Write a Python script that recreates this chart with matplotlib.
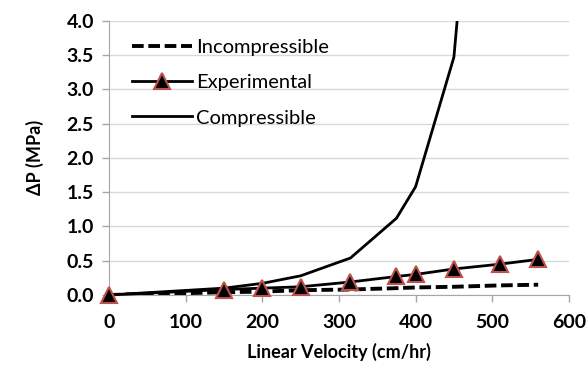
import matplotlib.pyplot as plt

# data
vel_exp = [0, 150, 200, 250, 315, 375, 400, 450, 510, 560]
dp_exp = [0.0, 0.08, 0.10, 0.12, 0.19, 0.27, 0.30, 0.38, 0.45, 0.52]

vel_inc = [0, 150, 200, 250, 315, 375, 400, 450, 510, 560]
dp_inc = [0.0, 0.04, 0.05, 0.07, 0.08, 0.10, 0.11, 0.12, 0.14, 0.15]

vel_comp = [0, 150, 200, 250, 315, 375, 400, 450, 510]
dp_comp = [0.0, 0.10, 0.17, 0.28, 0.54, 1.12, 1.58, 3.47, 11.0]

x_ticks = [0, 100, 200, 300, 400, 500, 600]
y_ticks = [0.0, 0.5, 1.0, 1.5, 2.0, 2.5, 3.0, 3.5, 4.0]

plt.rcParams['font.family'] = ['Lato', 'DejaVu Sans']

fig = plt.figure(figsize=(5.87, 3.66), dpi=100)
ax = fig.add_axes([0.186, 0.194, 0.783, 0.749])

ax.plot(vel_inc, dp_inc, color='black', lw=2.8, ls=(0, (3, 1.2)), label='Incompressible')
ax.plot(vel_exp, dp_exp, color='black', lw=2, marker='^', ms=11,
        markerfacecolor='black', markeredgecolor='#c0504d', markeredgewidth=1.5,
        label='Experimental', clip_on=False, zorder=4)
ax.plot(vel_comp, dp_comp, color='black', lw=2, label='Compressible')

ax.set_xlim(0, 600)
ax.set_ylim(0, 4.0)
ax.set_xticks(x_ticks)
ax.set_yticks(y_ticks)
ax.set_yticklabels([f'{v:.1f}' for v in y_ticks])
ax.tick_params(labelsize=14, colors='#a6a6a6', labelcolor='black', length=5, width=1)
ax.tick_params(axis='x', pad=9)
ax.tick_params(axis='y', pad=6)
for lab in ax.get_xticklabels() + ax.get_yticklabels():
    lab.set_fontweight('bold')

ax.grid(axis='y', color='#d9d9d9', lw=1)
ax.set_axisbelow(True)
for s in ['top', 'right']:
    ax.spines[s].set_visible(False)
for s in ['left', 'bottom']:
    ax.spines[s].set_color('#a6a6a6')

ax.set_xlabel('Linear Velocity (cm/hr)', fontsize=13, fontweight='bold', labelpad=8)
ax.set_ylabel('ΔP (MPa)', fontsize=13, fontweight='bold', labelpad=16)

leg = ax.legend(loc='upper left', bbox_to_anchor=(0.01, 1.0), frameon=False,
                fontsize=14.5, handlelength=3.0, handletextpad=0.2, labelspacing=0.9)

fig.savefig('out.png', dpi=100)
